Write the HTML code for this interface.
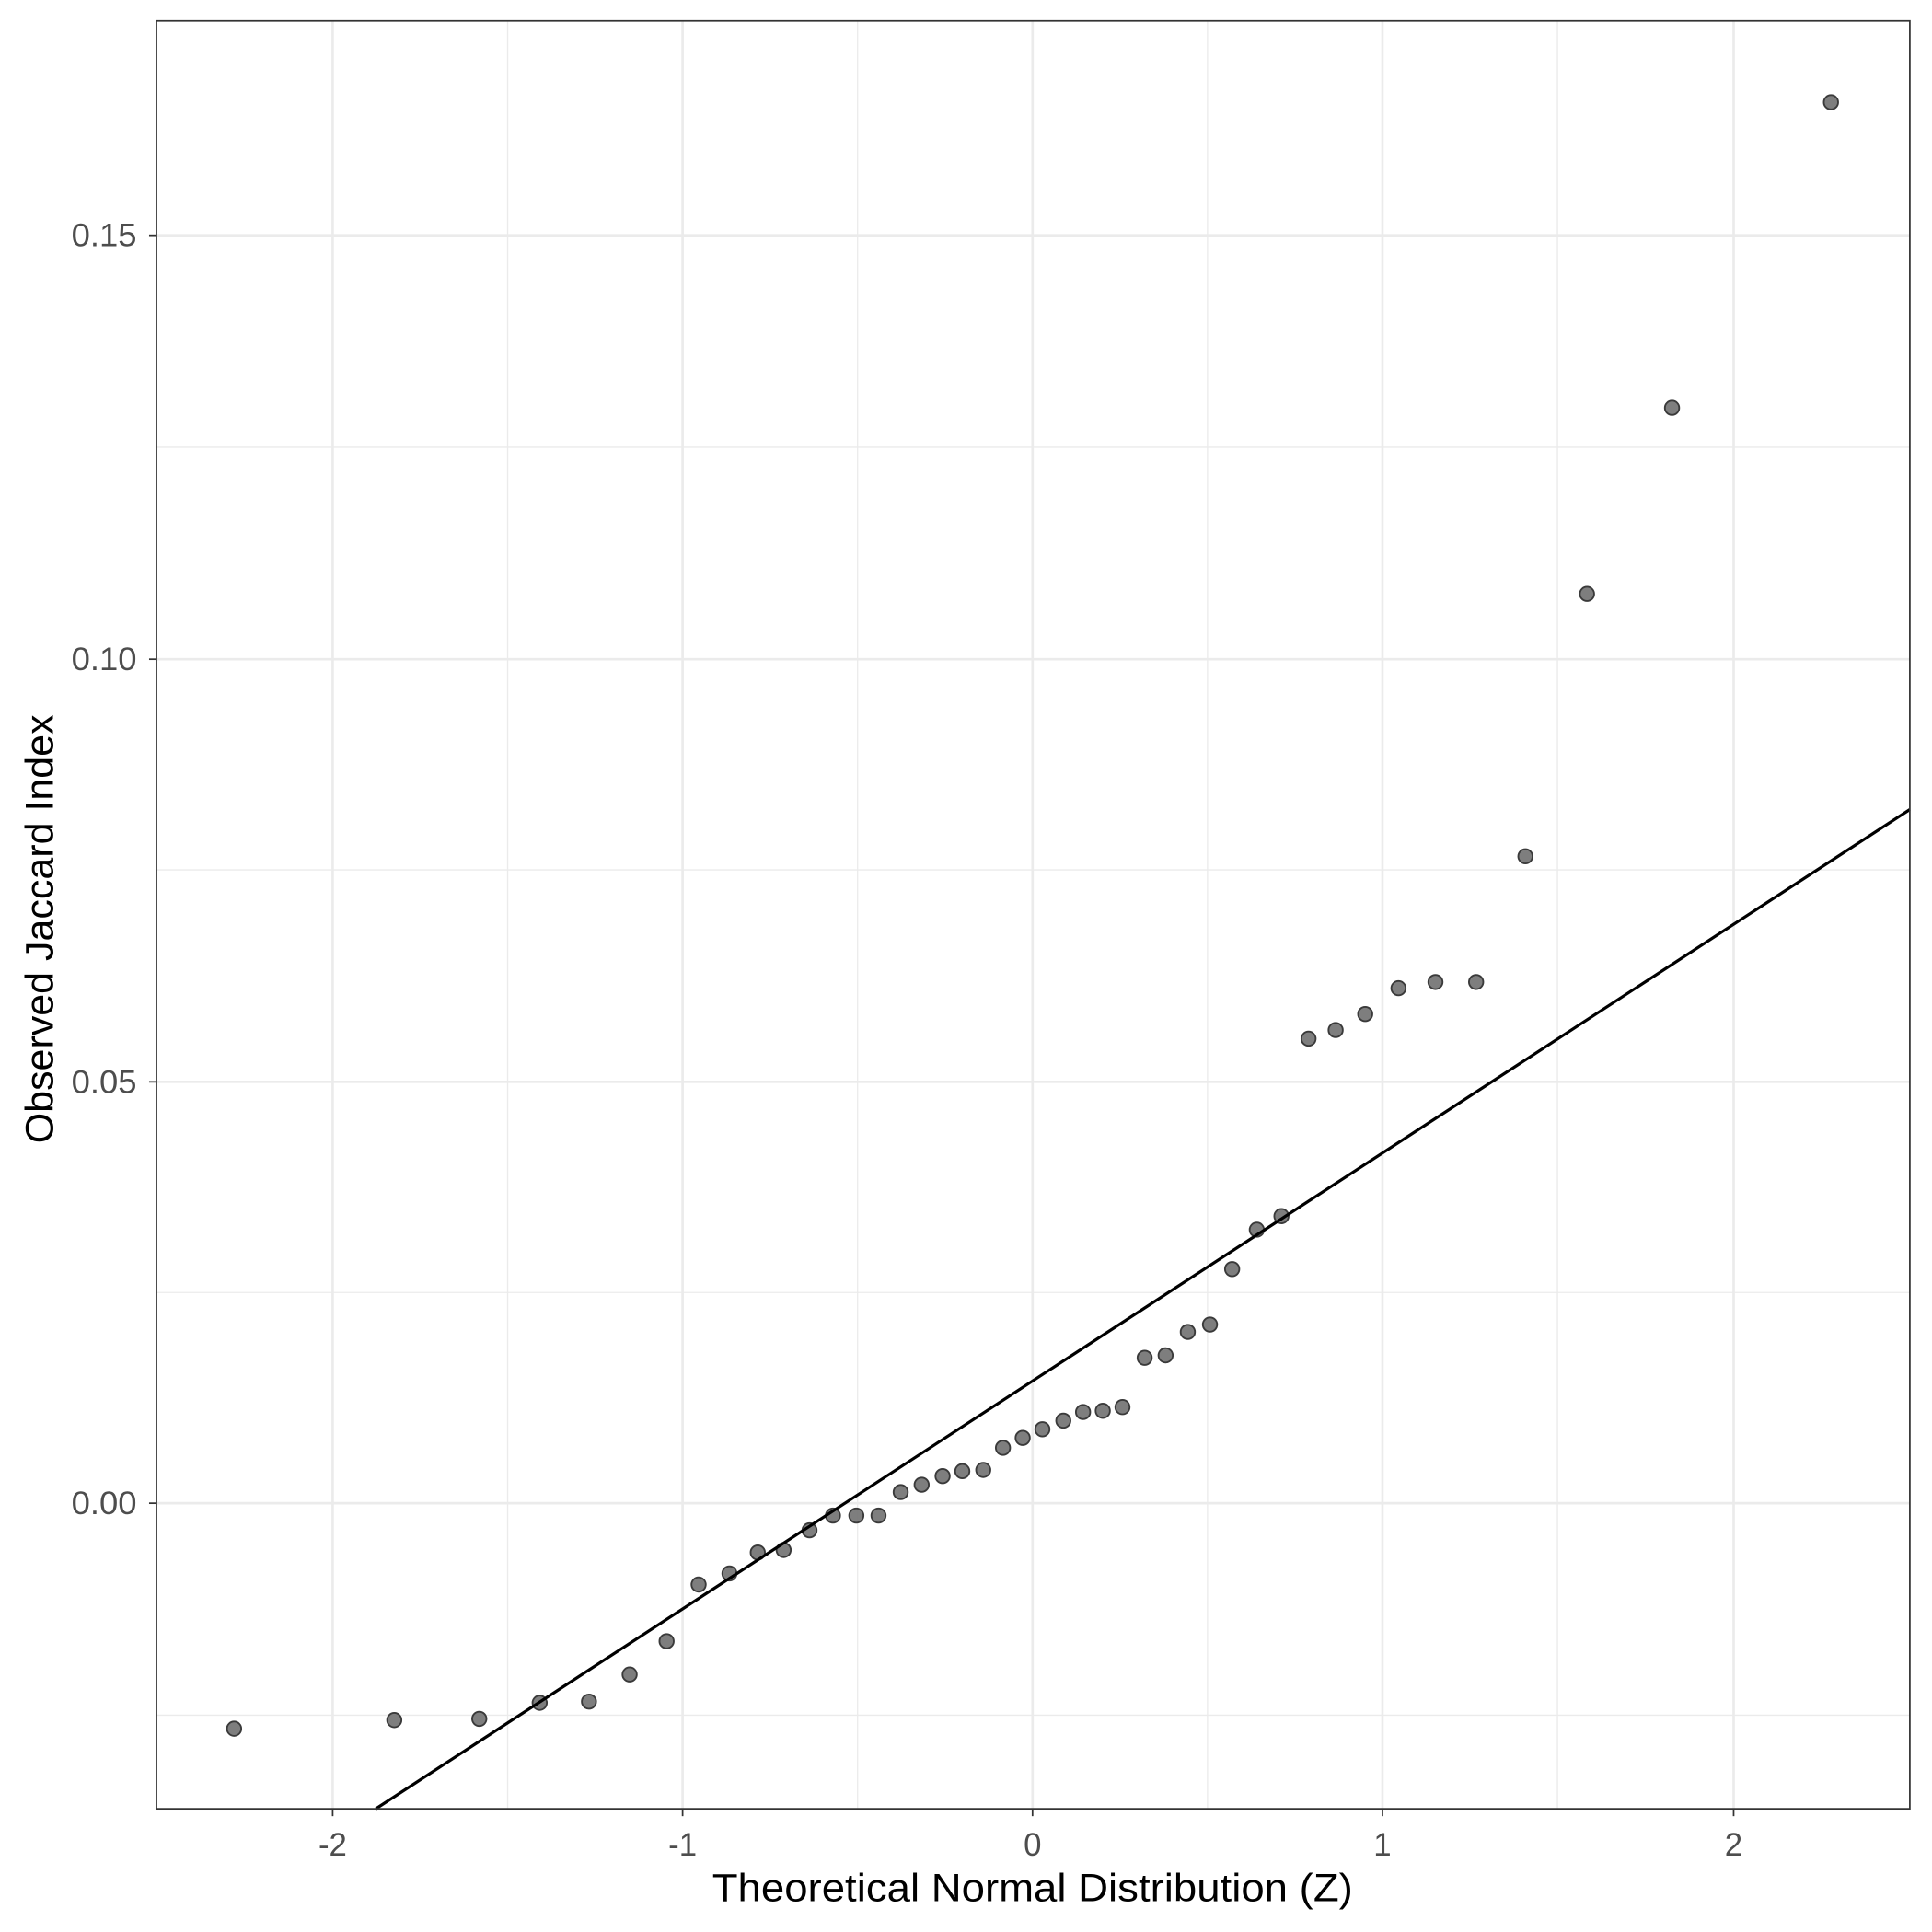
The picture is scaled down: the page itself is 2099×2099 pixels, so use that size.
<!DOCTYPE html>
<html><head><style>html,body{margin:0;padding:0;background:#fff}svg{display:block}</style></head>
<body>
<svg width="2099" height="2099" viewBox="0 0 1568 1568" xmlns="http://www.w3.org/2000/svg" font-family="Liberation Sans, Arial, sans-serif">
<rect width="1568" height="1568" fill="#fff"/>
<g stroke="#ebebeb" stroke-width="1">
<line x1="412" y1="17" x2="412" y2="1468"/><line x1="696" y1="17" x2="696" y2="1468"/><line x1="980" y1="17" x2="980" y2="1468"/><line x1="1264" y1="17" x2="1264" y2="1468"/>
<line x1="127" y1="363" x2="1550" y2="363"/><line x1="127" y1="706" x2="1550" y2="706"/><line x1="127" y1="1049" x2="1550" y2="1049"/><line x1="127" y1="1392" x2="1550" y2="1392"/>
</g>
<g stroke="#ebebeb" stroke-width="2">
<line x1="270" y1="17" x2="270" y2="1468"/><line x1="554" y1="17" x2="554" y2="1468"/><line x1="838" y1="17" x2="838" y2="1468"/><line x1="1122" y1="17" x2="1122" y2="1468"/><line x1="1407" y1="17" x2="1407" y2="1468"/>
<line x1="127" y1="191" x2="1550" y2="191"/><line x1="127" y1="535" x2="1550" y2="535"/><line x1="127" y1="878" x2="1550" y2="878"/><line x1="127" y1="1220" x2="1550" y2="1220"/>
</g>
<g fill="#777" stroke="#3a3a3a" stroke-width="1.4" fill-opacity="0.95">
<circle cx="190" cy="1403" r="5.8"/><circle cx="320" cy="1396" r="5.8"/><circle cx="389" cy="1395" r="5.8"/><circle cx="438" cy="1382" r="5.8"/><circle cx="478" cy="1381" r="5.8"/><circle cx="511" cy="1359" r="5.8"/><circle cx="541" cy="1332" r="5.8"/><circle cx="567" cy="1286" r="5.8"/><circle cx="592" cy="1277" r="5.8"/><circle cx="615" cy="1260" r="5.8"/><circle cx="636" cy="1258" r="5.8"/><circle cx="657" cy="1242" r="5.8"/><circle cx="676" cy="1230" r="5.8"/><circle cx="695" cy="1230" r="5.8"/><circle cx="713" cy="1230" r="5.8"/><circle cx="731" cy="1211" r="5.8"/><circle cx="748" cy="1205" r="5.8"/><circle cx="765" cy="1198" r="5.8"/><circle cx="781" cy="1194" r="5.8"/><circle cx="798" cy="1193" r="5.8"/><circle cx="814" cy="1175" r="5.8"/><circle cx="830" cy="1167" r="5.8"/><circle cx="846" cy="1160" r="5.8"/><circle cx="863" cy="1153" r="5.8"/><circle cx="879" cy="1146" r="5.8"/><circle cx="895" cy="1145" r="5.8"/><circle cx="911" cy="1142" r="5.8"/><circle cx="929" cy="1102" r="5.8"/><circle cx="946" cy="1100" r="5.8"/><circle cx="964" cy="1081" r="5.8"/><circle cx="982" cy="1075" r="5.8"/><circle cx="1000" cy="1030" r="5.8"/><circle cx="1020" cy="998" r="5.8"/><circle cx="1040" cy="987" r="5.8"/><circle cx="1062" cy="843" r="5.8"/><circle cx="1084" cy="836" r="5.8"/><circle cx="1108" cy="823" r="5.8"/><circle cx="1135" cy="802" r="5.8"/><circle cx="1165" cy="797" r="5.8"/><circle cx="1198" cy="797" r="5.8"/><circle cx="1238" cy="695" r="5.8"/><circle cx="1288" cy="482" r="5.8"/><circle cx="1357" cy="331" r="5.8"/><circle cx="1486" cy="83" r="5.8"/>
</g>
<line x1="305" y1="1468" x2="1550" y2="657" stroke="#000" stroke-width="2.4"/>
<rect x="127" y="17" width="1423" height="1451" fill="none" stroke="#333" stroke-width="1.3"/>
<g stroke="#333" stroke-width="1.3">
<line x1="121" y1="191" x2="127" y2="191"/><line x1="121" y1="535" x2="127" y2="535"/><line x1="121" y1="878" x2="127" y2="878"/><line x1="121" y1="1220" x2="127" y2="1220"/>
<line x1="270" y1="1468" x2="270" y2="1474"/><line x1="554" y1="1468" x2="554" y2="1474"/><line x1="838" y1="1468" x2="838" y2="1474"/><line x1="1122" y1="1468" x2="1122" y2="1474"/><line x1="1407" y1="1468" x2="1407" y2="1474"/>
</g>
<g fill="#4d4d4d" font-size="26" text-anchor="end">
<text x="111" y="200" textLength="53" lengthAdjust="spacingAndGlyphs">0.15</text><text x="111" y="544" textLength="53" lengthAdjust="spacingAndGlyphs">0.10</text><text x="111" y="887" textLength="53" lengthAdjust="spacingAndGlyphs">0.05</text><text x="111" y="1229" textLength="53" lengthAdjust="spacingAndGlyphs">0.00</text>
</g>
<g fill="#4d4d4d" font-size="26" text-anchor="middle">
<text x="270" y="1506">-2</text><text x="554" y="1506">-1</text><text x="838" y="1506">0</text><text x="1122" y="1506">1</text><text x="1407" y="1506">2</text>
</g>
<text x="838" y="1543" font-size="32" text-anchor="middle" fill="#000" textLength="520" lengthAdjust="spacingAndGlyphs">Theoretical Normal Distribution (Z)</text>
<text transform="translate(43,754) rotate(-90)" font-size="32" text-anchor="middle" fill="#000" textLength="348" lengthAdjust="spacingAndGlyphs">Observed Jaccard Index</text>
</svg>
</body></html>
